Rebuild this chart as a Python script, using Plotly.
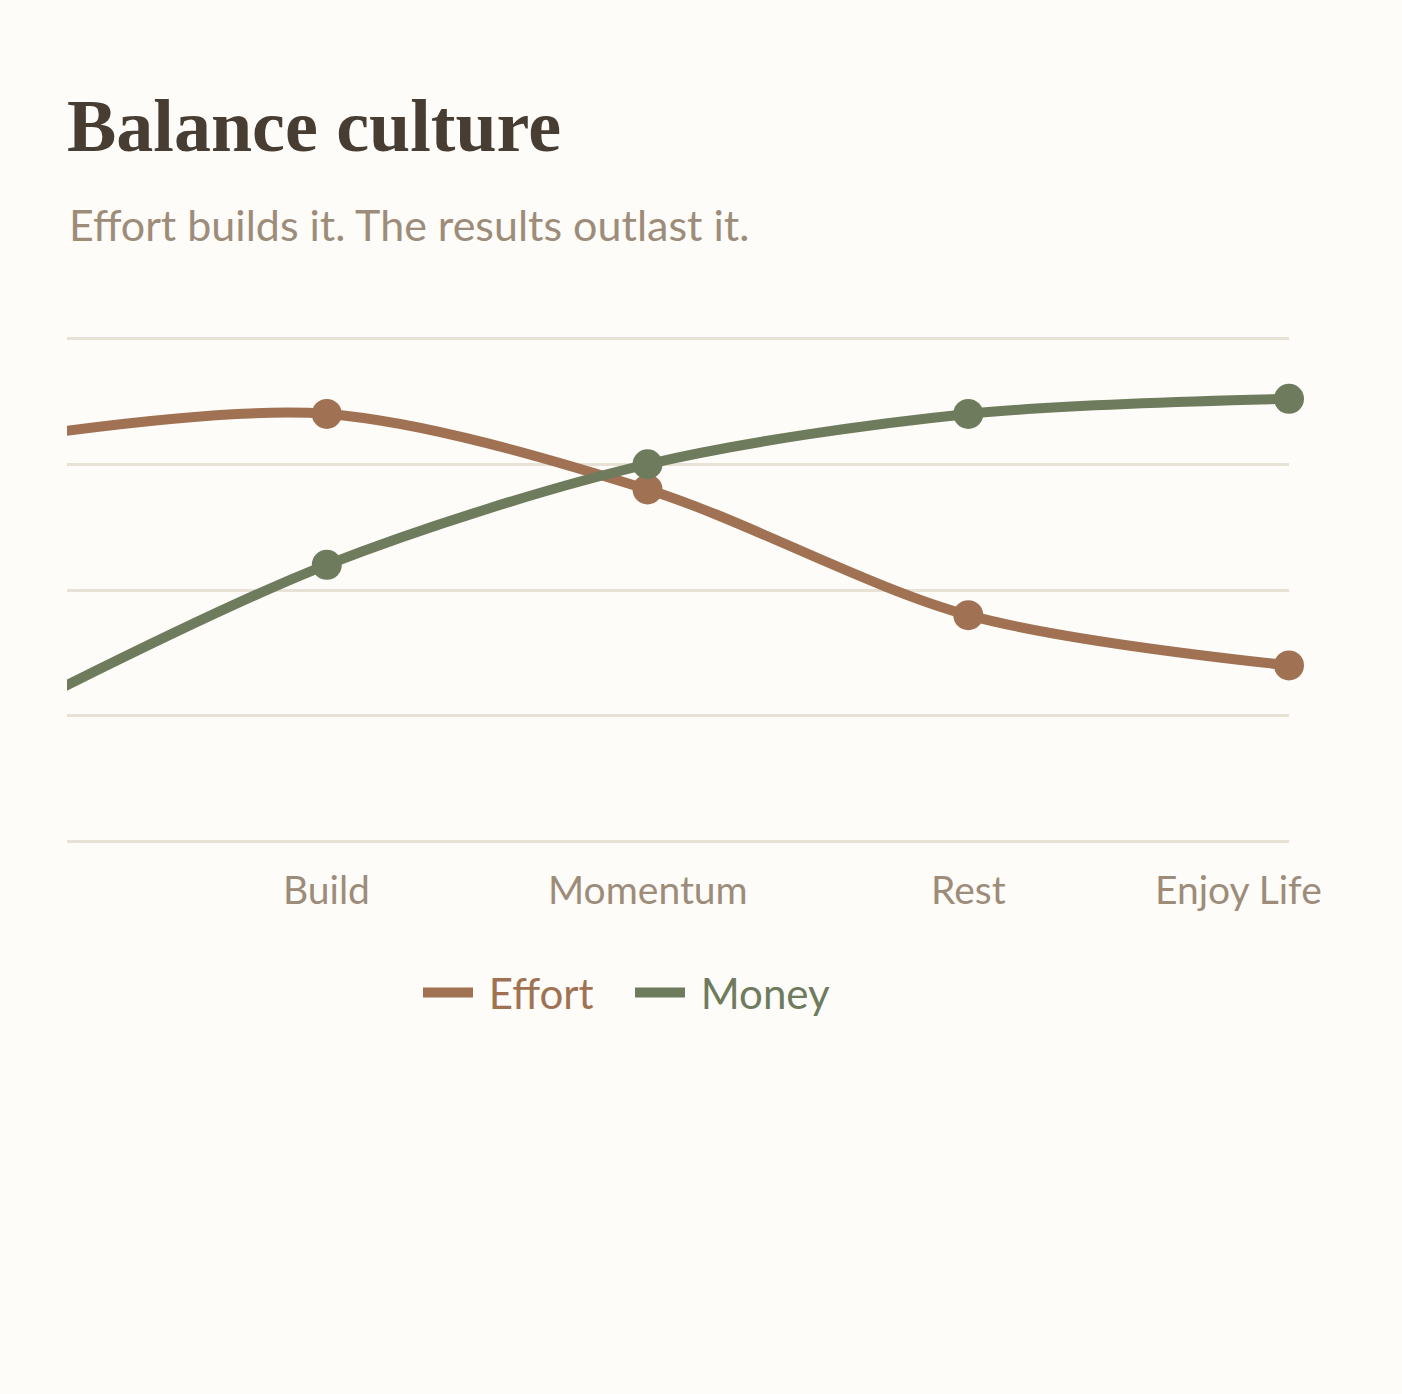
import plotly.graph_objects as go

categories = ["Start", "Build", "Momentum", "Rest", "Enjoy Life"]
tick_labels = ["Build", "Momentum", "Rest", "Enjoy Life"]
effort = [80, 85, 70, 45, 35]
money = [25, 55, 75, 85, 88]

C_EFFORT = "#A07253"
C_MONEY = "#6F7B5D"
C_TEXT = "#9E8C7A"
C_TITLE = "#473D33"
C_GRID = "#E8E1D6"
BG = "#FDFCF8"

fig = go.Figure()
msize = [0] + [30] * (len(categories) - 1)
for name, vals, col in [("Effort", effort, C_EFFORT), ("Money", money, C_MONEY)]:
    fig.add_trace(go.Scatter(
        x=categories, y=vals, mode="lines", name=f"\u00a0<span style='color:{col}'>{name}</span>",
        line=dict(color=col, width=10, shape="spline", smoothing=0.9),
        hoverinfo="skip",
    ))
for name, vals, col in [("Effort", effort, C_EFFORT), ("Money", money, C_MONEY)]:
    fig.add_trace(go.Scatter(
        x=categories, y=vals, mode="markers", showlegend=False,
        marker=dict(color=col, size=msize, opacity=1, line=dict(width=0)),
        opacity=1, cliponaxis=False, hoverinfo="skip",
    ))

# category labels under the axis (last one nudged left as in the reference)
label_annotations = [
    dict(text=lab, xref="x", yref="paper", x=lab, y=0, yanchor="middle", xanchor="center",
         yshift=-46, xshift=(-51 if i == len(tick_labels) - 1 else 0), showarrow=False,
         font=dict(family="Lato", size=39, color=C_TEXT))
    for i, lab in enumerate(tick_labels)
]

fig.update_layout(
    width=1402, height=1394,
    paper_bgcolor=BG, plot_bgcolor=BG,
    margin=dict(l=67, r=113, t=337, b=551, autoexpand=False),
    font=dict(family="Lato", color=C_TEXT),
    title=dict(
        text="Balance culture", x=67/1402, xanchor="left", xref="container",
        y=1 - 125/1394, yanchor="middle", yref="container",
        font=dict(family="Liberation Serif", size=74, color=C_TITLE, weight="bold"),
    ),
    annotations=[dict(
        text="Effort builds it. The results outlast it.", xref="paper", yref="paper",
        x=0, y=1 + (337 - 225) / 506, xanchor="left", yanchor="middle", showarrow=False,
        font=dict(family="Lato", size=43, color=C_TEXT),
    )] + label_annotations,
    showlegend=True,
    legend=dict(
        orientation="h", x=(418 - 67) / 1222, xanchor="left", y=-0.296, yanchor="middle",
        font=dict(family="Lato", size=42), bgcolor="rgba(0,0,0,0)",
        itemwidth=50, entrywidth=147, entrywidthmode="pixels",
    ),
    xaxis=dict(
        type="category", categoryorder="array", categoryarray=categories,
        range=[0.19, 4], showgrid=False, zeroline=False, showline=False,
        showticklabels=False, ticks="", automargin=False,
        fixedrange=True,
    ),
    yaxis=dict(
        range=[-0.3, 100.3], tickvals=[0, 25, 50, 75, 100], showticklabels=False,
        showgrid=True, gridcolor=C_GRID, gridwidth=3, zeroline=False, showline=False,
        fixedrange=True, automargin=False,
    ),
)

fig.write_html(
    "out.html",
    config={"displayModeBar": False},
    post_script="document.body.style.margin='0';document.body.style.background='#FDFCF8';",
)
